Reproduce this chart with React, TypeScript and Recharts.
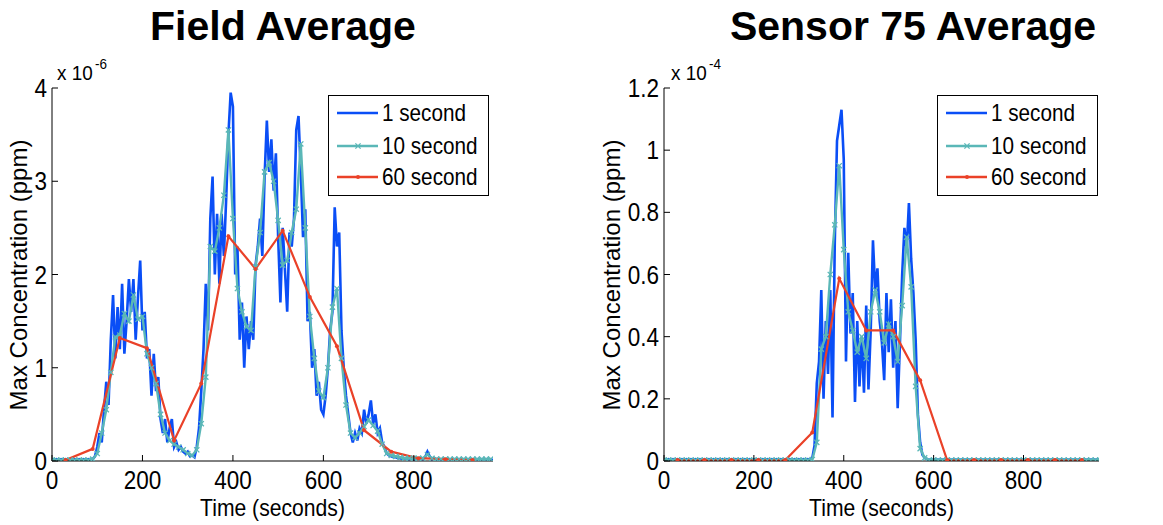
import React from "react";
import { LineChart, Line, XAxis, YAxis } from "recharts";

const BLUE = "#0a4ef6";
const TEAL = "#5ab7b7";
const RED = "#ea4128";
const FONT = "'Liberation Sans', Arial, Helvetica, sans-serif";

// 1 second average, every 5 s (0 .. 975 s)
const ONE_SEC_STEP = 5;
const fieldOneSec = [
  0.02, 0.01, 0.02, 0.01, 0.02, 0.01, 0.02, 0.01, 0.02, 0.01, 0.02, 0.01, 0.02, 0.01, 0.02, 0.01, 0.02, 0.01, 0.02, 0.05,
  0.15, 0.3, 0.2, 0.55, 0.85, 0.6, 1.3, 1.78, 1.1, 1.65, 1.2, 1.9, 1.15, 1.5, 1.95, 1.6, 1.95, 1.3, 1.75, 2.15,
  1.4, 1.6, 1.1, 1.2, 0.7, 1.15, 0.75, 0.9, 0.45, 0.3, 0.45, 0.2, 0.35, 0.45, 0.15, 0.2, 0.12, 0.15, 0.1, 0.08,
  0.1, 0.05, 0.06, 0.04, 0.15, 0.35, 0.75, 1.2, 1.9, 1.4, 2.6, 3.05, 2.0, 2.65, 1.9, 2.65, 2.2, 2.8, 3.5, 3.95,
  3.8, 2.0, 2.3, 1.3, 1.7, 1.0, 1.55, 1.2, 1.5, 1.3, 2.1, 2.3, 2.6, 2.2, 3.05, 3.65, 3.1, 3.45, 2.9, 3.3,
  2.4, 1.7, 2.5, 2.05, 1.6, 2.45, 2.3, 2.6, 3.55, 3.7, 3.1, 2.4, 2.7, 1.5, 1.6, 1.0, 1.2, 0.7, 0.85, 0.55,
  0.5, 0.7, 1.0, 1.4, 1.6, 2.72, 2.3, 2.45, 1.4, 1.0, 0.7, 0.5, 0.3, 0.2, 0.3, 0.22, 0.35, 0.3, 0.55, 0.4,
  0.5, 0.65, 0.4, 0.5, 0.3, 0.35, 0.2, 0.15, 0.08, 0.06, 0.05, 0.04, 0.04, 0.03, 0.03, 0.02, 0.03, 0.02, 0.02, 0.03,
  0.02, 0.02, 0.03, 0.02, 0.02, 0.04, 0.1, 0.05, 0.02, 0.03, 0.02, 0.01, 0.02, 0.01, 0.02, 0.01, 0.02, 0.01, 0.02, 0.01,
  0.02, 0.01, 0.02, 0.01, 0.02, 0.01, 0.02, 0.01, 0.02, 0.01, 0.02, 0.01, 0.02, 0.01, 0.02, 0.01,
];
const sensorOneSec = [
  0.006, 0.003, 0.006, 0.003, 0.006, 0.003, 0.006, 0.003, 0.006, 0.003, 0.006, 0.003, 0.006, 0.003, 0.006, 0.003, 0.006, 0.003, 0.006, 0.003,
  0.006, 0.003, 0.006, 0.003, 0.006, 0.003, 0.006, 0.003, 0.006, 0.003, 0.006, 0.003, 0.006, 0.003, 0.006, 0.003, 0.006, 0.003, 0.006, 0.003,
  0.006, 0.003, 0.006, 0.003, 0.006, 0.003, 0.006, 0.003, 0.006, 0.003, 0.006, 0.003, 0.006, 0.003, 0.006, 0.003, 0.006, 0.003, 0.006, 0.003,
  0.006, 0.003, 0.006, 0.004, 0.006, 0.004, 0.01, 0.05, 0.25, 0.32, 0.55, 0.2, 0.45, 0.28, 0.55, 0.14, 0.7, 1.03, 1.08, 1.13,
  0.97, 0.32, 0.67, 0.41, 0.54, 0.19, 0.45, 0.24, 0.4, 0.22, 0.5, 0.23, 0.42, 0.71, 0.55, 0.62, 0.45, 0.38, 0.26, 0.54,
  0.35, 0.52, 0.3, 0.45, 0.17, 0.38, 0.6, 0.75, 0.68, 0.83, 0.65, 0.54, 0.39, 0.15, 0.06, 0.02, 0.01, 0.006, 0.003, 0.006,
  0.003, 0.006, 0.003, 0.006, 0.003, 0.006, 0.003, 0.006, 0.003, 0.006, 0.003, 0.006, 0.003, 0.006, 0.003, 0.006, 0.003, 0.006, 0.003, 0.006,
  0.003, 0.006, 0.003, 0.006, 0.003, 0.006, 0.003, 0.006, 0.003, 0.006, 0.003, 0.006, 0.003, 0.006, 0.003, 0.006, 0.003, 0.006, 0.003, 0.006,
  0.003, 0.006, 0.003, 0.006, 0.003, 0.006, 0.003, 0.006, 0.003, 0.006, 0.003, 0.006, 0.003, 0.006, 0.003, 0.006, 0.003, 0.006, 0.003, 0.006,
  0.003, 0.006, 0.003, 0.006, 0.003, 0.006, 0.003, 0.006, 0.003, 0.006, 0.003, 0.006, 0.003, 0.006, 0.003, 0.006,
];

// 10 second average, one point every 10 s (0 .. 970 s)
const TEN_SEC_STEP = 10;
const fieldTenSec = [
  0.01, 0.01, 0.01, 0.01, 0.01, 0.01, 0.01, 0.01, 0.01, 0.02,
  0.08, 0.3, 0.55, 0.95, 1.33, 1.35, 1.58, 1.5, 1.78, 1.52,
  1.55, 1.15, 1.0, 0.83, 0.5, 0.3, 0.22, 0.18, 0.15, 0.12,
  0.08, 0.06, 0.12, 0.4, 0.9, 2.3, 2.25, 2.5, 2.85, 3.55,
  2.6, 1.85, 1.6, 1.44, 1.4, 2.08, 2.45, 3.1, 3.2, 3.0,
  2.58, 2.1, 2.15, 2.45, 2.7, 3.4, 2.5, 1.55, 1.1, 0.75,
  0.68, 1.0, 1.65, 1.85, 1.1, 0.6, 0.3, 0.25, 0.3, 0.37,
  0.44, 0.38, 0.32, 0.18, 0.08, 0.06, 0.05, 0.04, 0.03, 0.03,
  0.03, 0.03, 0.03, 0.07, 0.03, 0.02, 0.02, 0.02, 0.02, 0.02,
  0.02, 0.02, 0.02, 0.02, 0.02, 0.02, 0.02, 0.02,
];
const sensorTenSec = [
  0.003, 0.003, 0.003, 0.003, 0.003, 0.003, 0.003, 0.003, 0.003, 0.003,
  0.003, 0.003, 0.003, 0.003, 0.003, 0.003, 0.003, 0.003, 0.003, 0.003,
  0.003, 0.003, 0.003, 0.003, 0.003, 0.003, 0.003, 0.003, 0.003, 0.003,
  0.003, 0.003, 0.003, 0.005, 0.06, 0.36, 0.4, 0.6, 0.76, 0.95,
  0.68, 0.48, 0.42, 0.35, 0.4, 0.33, 0.48, 0.55, 0.48, 0.38,
  0.44, 0.4, 0.32, 0.5, 0.72, 0.56, 0.24, 0.04, 0.01, 0.003,
  0.003, 0.003, 0.003, 0.003, 0.003, 0.003, 0.003, 0.003, 0.003, 0.003,
  0.003, 0.003, 0.003, 0.003, 0.003, 0.003, 0.003, 0.003, 0.003, 0.003,
  0.003, 0.003, 0.003, 0.003, 0.003, 0.003, 0.003, 0.003, 0.003, 0.003,
  0.003, 0.003, 0.003, 0.003, 0.003, 0.003, 0.003, 0.003,
];

// 60 second average
const sixtySecTimes = [30, 90, 150, 210, 270, 330, 390, 450, 510, 570, 630, 690, 750, 810, 870, 930];
const fieldSixtySec = [0.01, 0.13, 1.32, 1.21, 0.22, 0.83, 2.41, 2.06, 2.47, 1.76, 1.23, 0.33, 0.1, 0.03, 0.02, 0.01];
const sensorSixtySec = [0.003, 0.003, 0.003, 0.003, 0.003, 0.092, 0.587, 0.42, 0.42, 0.26, 0.003, 0.003, 0.003, 0.003, 0.003, 0.003];

const xTicks = [0, 200, 400, 600, 800];
const fieldYTicks = [0, 1, 2, 3, 4];
const sensorYTicks = [0, 0.2, 0.4, 0.6, 0.8, 1, 1.2];
const seriesNames = ["1 second", "10 second", "60 second"];

const byStep = (vals: number[], step: number) => vals.map((v, i) => ({ t: i * step, v }));
const byTimes = (times: number[], vals: number[]) => vals.map((v, i) => ({ t: times[i], v }));

const TICK_LEN = 6;
const TICK_GAP = 12;
const LABEL_GAP = 5;

// bottom axis: inward tick + label (tickSize is 0, so the axis sits TICK_GAP above y)
const XTick = (props: any) => {
  const { x, y, payload } = props;
  const axisY = y - TICK_GAP;
  return (
    <g>
      <line x1={x} x2={x} y1={axisY} y2={axisY - TICK_LEN} stroke="#000" />
      <text transform={`translate(${x},${axisY + 28}) scale(0.9,1)`} textAnchor="middle" fontFamily={FONT} fontSize={25} fill="#000">
        {payload.value}
      </text>
    </g>
  );
};

const YTick = (props: any) => {
  const { x, y, payload } = props;
  const axisX = x + TICK_GAP;
  return (
    <g>
      <line x1={axisX} x2={axisX + TICK_LEN} y1={y} y2={y} stroke="#000" />
      <text transform={`translate(${axisX - LABEL_GAP},${y + 9}) scale(0.9,1)`} textAnchor="end" fontFamily={FONT} fontSize={25} fill="#000">
        {payload.value}
      </text>
    </g>
  );
};

const TopTick = (props: any) => {
  const { x, y } = props;
  return <line x1={x} x2={x} y1={y} y2={y + TICK_LEN} stroke="#000" />;
};

const RightTick = (props: any) => {
  const { x, y } = props;
  return <line x1={x} x2={x - TICK_LEN} y1={y} y2={y} stroke="#000" />;
};

const tealDot = (p: any) => {
  const { cx, cy, index } = p;
  if (cx == null || cy == null) return <g key={`tx-${index}`} />;
  const s = 2.6;
  return (
    <path
      key={`tx-${index}`}
      d={`M${cx - s},${cy - s}L${cx + s},${cy + s}M${cx - s},${cy + s}L${cx + s},${cy - s}`}
      stroke={TEAL}
      strokeWidth={1.3}
    />
  );
};

const redDot = (p: any) => {
  const { cx, cy, index } = p;
  if (cx == null || cy == null) return <g key={`rd-${index}`} />;
  return <circle key={`rd-${index}`} cx={cx} cy={cy} r={2} fill={RED} />;
};

interface PanelProps {
  left: number;
  width: number;
  yAxisWidth: number;
  rightMargin: number;
  xMax: number;
  yMax: number;
  yTicks: number[];
  oneSec: number[];
  tenSec: number[];
  sixtySec: number[];
}

function Panel({ left, width, yAxisWidth, rightMargin, xMax, yMax, yTicks, oneSec, tenSec, sixtySec }: PanelProps) {
  return (
    <div style={{ position: "absolute", left, top: 0, width, height: 525 }}>
      <LineChart width={width} height={525} margin={{ top: 88, right: rightMargin, bottom: 24, left: 0 }}>
        <XAxis
          xAxisId="b"
          dataKey="t"
          type="number"
          domain={[0, xMax]}
          ticks={xTicks}
          allowDataOverflow
          height={40}
          tickSize={0}
          tickMargin={TICK_GAP}
          tick={<XTick />}
          axisLine={{ stroke: "#000" }}
        />
        <XAxis
          xAxisId="top"
          orientation="top"
          dataKey="t"
          type="number"
          domain={[0, xMax]}
          ticks={xTicks}
          allowDataOverflow
          height={0}
          tickSize={0}
          tickMargin={0}
          tick={<TopTick />}
          axisLine={{ stroke: "#000" }}
        />
        <YAxis
          yAxisId="l"
          type="number"
          domain={[0, yMax]}
          ticks={yTicks}
          allowDataOverflow
          width={yAxisWidth}
          tickSize={0}
          tickMargin={TICK_GAP}
          tick={<YTick />}
          axisLine={{ stroke: "#000" }}
        />
        <YAxis
          yAxisId="r"
          orientation="right"
          type="number"
          domain={[0, yMax]}
          ticks={yTicks}
          allowDataOverflow
          width={0}
          tickSize={0}
          tickMargin={0}
          tick={<RightTick />}
          axisLine={{ stroke: "#000" }}
        />
        <Line
          xAxisId="b"
          yAxisId="l"
          data={byStep(oneSec, ONE_SEC_STEP)}
          dataKey="v"
          type="linear"
          stroke={BLUE}
          strokeWidth={2.6}
          dot={false}
          isAnimationActive={false}
        />
        <Line
          xAxisId="b"
          yAxisId="l"
          data={byStep(tenSec, TEN_SEC_STEP)}
          dataKey="v"
          type="linear"
          stroke={TEAL}
          strokeWidth={2.4}
          dot={tealDot}
          isAnimationActive={false}
        />
        <Line
          xAxisId="b"
          yAxisId="l"
          data={byTimes(sixtySecTimes, sixtySec)}
          dataKey="v"
          type="linear"
          stroke={RED}
          strokeWidth={2.2}
          dot={redDot}
          isAnimationActive={false}
        />
      </LineChart>
    </div>
  );
}

function LegendBox({ x, y }: { x: number; y: number }) {
  const colors = [BLUE, TEAL, RED];
  const rows = [18, 51, 82];
  return (
    <g>
      <rect x={x + 0.5} y={y + 0.5} width={160} height={100} fill="#fff" stroke="#000" strokeWidth={1} />
      {seriesNames.map((name, i) => (
        <g key={name}>
          <line x1={x + 9} x2={x + 50} y1={y + rows[i]} y2={y + rows[i]} stroke={colors[i]} strokeWidth={2.4} />
          {i === 1 && tealDot({ cx: x + 30, cy: y + rows[i], index: "lg" })}
          {i === 2 && redDot({ cx: x + 30, cy: y + rows[i], index: "lg" })}
          <text
            transform={`translate(${x + 54},${y + rows[i] + 8}) scale(0.9,1)`}
            fontFamily={FONT}
            fontSize={23}
            fill="#000"
          >
            {name}
          </text>
        </g>
      ))}
    </g>
  );
}

export default function App() {
  return (
    <div style={{ position: "absolute", left: 0, top: 0, width: 1163, height: 525, background: "#fff" }}>
      <Panel
        left={0}
        width={580}
        yAxisWidth={52}
        rightMargin={87}
        xMax={975}
        yMax={4}
        yTicks={fieldYTicks}
        oneSec={fieldOneSec}
        tenSec={fieldTenSec}
        sixtySec={fieldSixtySec}
      />
      <Panel
        left={580}
        width={583}
        yAxisWidth={84}
        rightMargin={64}
        xMax={968}
        yMax={1.2}
        yTicks={sensorYTicks}
        oneSec={sensorOneSec}
        tenSec={sensorTenSec}
        sixtySec={sensorSixtySec}
      />
      <svg width={1163} height={525} style={{ position: "absolute", left: 0, top: 0, pointerEvents: "none" }}>
        <text x={283} y={40} textAnchor="middle" fontFamily={FONT} fontWeight="bold" fontSize={41} fill="#000">
          Field Average
        </text>
        <text x={913} y={40} textAnchor="middle" fontFamily={FONT} fontWeight="bold" fontSize={41} fill="#000">
          Sensor 75 Average
        </text>

        <text transform="translate(57,80) scale(0.9,1)" fontFamily={FONT} fontSize={21} fill="#000">
          x 10
        </text>
        <text transform="translate(95,69) scale(0.9,1)" fontFamily={FONT} fontSize={15} fill="#000">
          -6
        </text>
        <text transform="translate(671,80) scale(0.9,1)" fontFamily={FONT} fontSize={21} fill="#000">
          x 10
        </text>
        <text transform="translate(709,69) scale(0.9,1)" fontFamily={FONT} fontSize={15} fill="#000">
          -4
        </text>

        <text transform="translate(272.5,516) scale(0.92,1)" textAnchor="middle" fontFamily={FONT} fontSize={23} fill="#000">
          Time (seconds)
        </text>
        <text transform="translate(881.5,516) scale(0.92,1)" textAnchor="middle" fontFamily={FONT} fontSize={23} fill="#000">
          Time (seconds)
        </text>
        <text transform="translate(27,275) rotate(-90)" textAnchor="middle" fontFamily={FONT} fontSize={24} fill="#000">
          Max Concentration (ppm)
        </text>
        <text transform="translate(620,275) rotate(-90)" textAnchor="middle" fontFamily={FONT} fontSize={24} fill="#000">
          Max Concentration (ppm)
        </text>

        <LegendBox x={328} y={95} />
        <LegendBox x={937} y={95} />
      </svg>
    </div>
  );
}
